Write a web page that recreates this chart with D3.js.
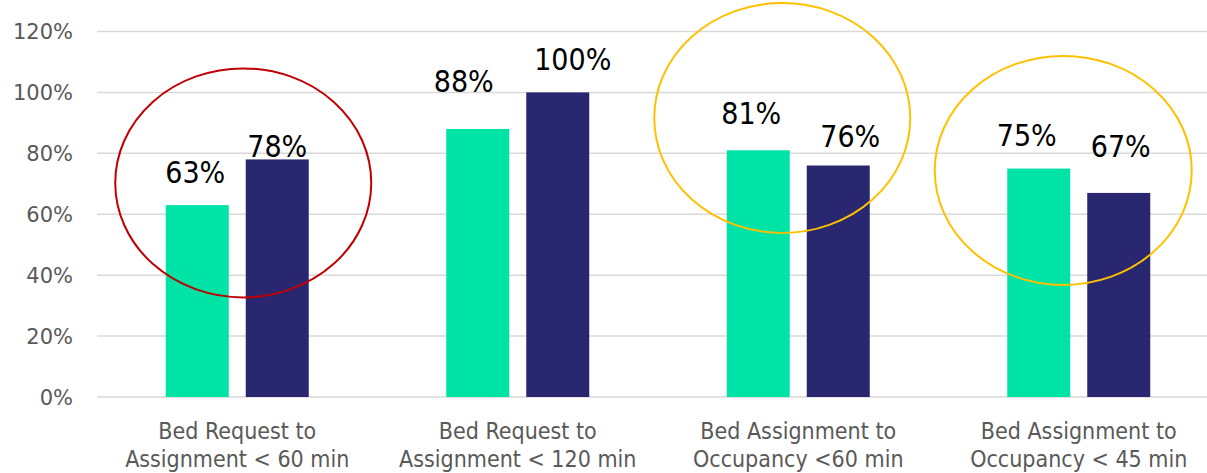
<!DOCTYPE html>
<html>
<head>
<meta charset="utf-8">
<script src="https://cdn.jsdelivr.net/npm/d3@7"></script>
<style>
  html, body { margin: 0; padding: 0; background: #ffffff; }
  svg { display: block; }
</style>
</head>
<body>
<svg id="chart" width="1207" height="473"></svg>
<script>
// Categories (two-line labels) and the two compliance series
const categories = [
  ["Bed Request to", "Assignment < 60 min"],
  ["Bed Request to", "Assignment < 120 min"],
  ["Bed Assignment to", "Occupancy <60 min"],
  ["Bed Assignment to", "Occupancy < 45 min"]
];
const seriesNames = ["Period 1", "Period 2"];
const period1 = [63, 88, 81, 75];
const period2 = [78, 100, 76, 67];
const yTicks = [0, 20, 40, 60, 80, 100, 120];

// Hand-placed nudges for the value labels, [dx, dy] in px
const labelNudge = [
  [[-2, 0], [0, 20]],
  [[-14, -15], [15, 0]],
  [[-7, -4], [12, 3]],
  [[-12, -1], [2, -14]]
];

// Highlight rings: category index, colour, centre offset, centre value, radii
const ringCategory = [0, 2, 3];
const ringColor = ["#C00000", "#FFC000", "#FFC000"];
const ringShift = [6, -16, -15.5];
const ringValue = [70.3, 91.6, 74.4];
const ringRadius = [[128, 114.5], [128, 115], [128.5, 114.5]];

const colors = ["#00E3A6", "#29276F"];

const svg = d3.select("#chart");
const margin = { left: 97, right: 1219, top: 31.5, bottom: 397 };

const x0 = d3.scaleBand()
  .domain(d3.range(categories.length))
  .range([margin.left, margin.right])
  .paddingInner(0).paddingOuter(0);

const x1 = d3.scaleBand()
  .domain(seriesNames)
  .range([-71.5, 71.5])
  .paddingInner(0.2125).paddingOuter(0);

const y = d3.scaleLinear().domain([0, 120]).range([margin.bottom, margin.top]);

// Gridlines
svg.append("g")
  .selectAll("line")
  .data(yTicks)
  .join("line")
  .attr("x1", margin.left)
  .attr("x2", 1207)
  .attr("y1", d => y(d))
  .attr("y2", d => y(d))
  .attr("stroke", "#D9D9D9")
  .attr("stroke-width", 1.5);

// Y tick labels
svg.append("g")
  .selectAll("text")
  .data(yTicks)
  .join("text")
  .attr("x", 73)
  .attr("y", d => y(d))
  .attr("dy", "0.36em")
  .attr("text-anchor", "end")
  .attr("font-family", "DejaVu Sans, sans-serif")
  .attr("font-size", 21)
  .attr("fill", "#595959")
  .text(d => d + "%");

// Bars
const rows = categories.map((c, i) => [period1[i], period2[i]]);
const groups = svg.append("g")
  .selectAll("g")
  .data(rows)
  .join("g")
  .attr("transform", (d, i) => `translate(${x0(i) + x0.bandwidth() / 2},0)`);

groups.selectAll("rect")
  .data(d => d.map((v, s) => ({ v, s })))
  .join("rect")
  .attr("x", d => x1(seriesNames[d.s]))
  .attr("width", x1.bandwidth())
  .attr("y", d => y(d.v))
  .attr("height", d => y(0) - y(d.v))
  .attr("fill", d => colors[d.s]);

// Value labels
groups.each(function (d, i) {
  d3.select(this).selectAll("text")
    .data(d.map((v, s) => ({ v, s })))
    .join("text")
    .attr("x", e => x1(seriesNames[e.s]) + x1.bandwidth() / 2 + labelNudge[i][e.s][0])
    .attr("y", e => y(e.v) - 22 + labelNudge[i][e.s][1])
    .attr("text-anchor", "middle")
    .attr("font-family", "DejaVu Sans Condensed, DejaVu Sans, sans-serif")
    .attr("font-stretch", "condensed")
    .attr("font-size", 30)
    .attr("fill", "#000000")
    .text(e => e.v + "%");
});

// Category labels
const cat = svg.append("g")
  .selectAll("text")
  .data(categories)
  .join("text")
  .attr("x", (d, i) => x0(i) + x0.bandwidth() / 2)
  .attr("y", 439)
  .attr("text-anchor", "middle")
  .attr("font-family", "DejaVu Sans Condensed, DejaVu Sans, sans-serif")
  .attr("font-stretch", "condensed")
  .attr("font-size", 23)
  .attr("fill", "#595959");
cat.selectAll("tspan")
  .data(d => d)
  .join("tspan")
  .attr("x", function () { return d3.select(this.parentNode).attr("x"); })
  .attr("dy", (d, k) => k === 0 ? 0 : 27.5)
  .text(d => d);

// Highlight rings
svg.append("g")
  .selectAll("ellipse")
  .data(ringCategory)
  .join("ellipse")
  .attr("cx", (c, k) => x0(c) + x0.bandwidth() / 2 + ringShift[k])
  .attr("cy", (c, k) => y(ringValue[k]))
  .attr("rx", (c, k) => ringRadius[k][0])
  .attr("ry", (c, k) => ringRadius[k][1])
  .attr("fill", "none")
  .attr("stroke", (c, k) => ringColor[k])
  .attr("stroke-width", 2);
</script>
</body>
</html>
